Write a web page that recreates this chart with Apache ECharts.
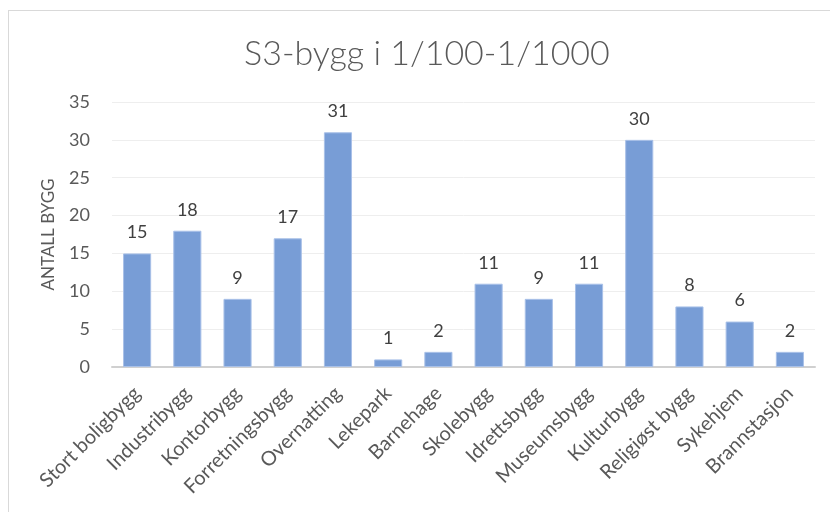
<!DOCTYPE html>
<html>
<head>
<meta charset="utf-8">
<script src="https://cdn.jsdelivr.net/npm/echarts@6/dist/echarts.min.js"></script>
<style>
  html, body { margin: 0; padding: 0; background: #fff; }
  #frame { position: absolute; left: 8px; top: 10px; width: 830px; height: 520px; border: 1px solid #d9d9d9; box-sizing: border-box; }
  #chart { position: absolute; left: 0; top: 0; width: 830px; height: 512px; }
</style>
</head>
<body>
<div id="frame"></div>
<div id="chart"></div>
<script>
var categories = ['Stort boligbygg', 'Industribygg', 'Kontorbygg', 'Forretningsbygg', 'Overnatting', 'Lekepark', 'Barnehage', 'Skolebygg', 'Idrettsbygg', 'Museumsbygg', 'Kulturbygg', 'Religiøst bygg', 'Sykehjem', 'Brannstasjon'];
var values = [15, 18, 9, 17, 31, 1, 2, 11, 9, 11, 30, 8, 6, 2];
var yTicks = [0, 5, 10, 15, 20, 25, 30, 35];

var font = 'Lato, "Open Sans", sans-serif';
var myChart = echarts.init(document.getElementById('chart'));
var option = {
    animation: false,
    title: {
        text: 'S3-bygg i 1/100-1/1000',
        left: 239,
        top: 32,
        textStyle: { color: '#595959', fontFamily: font, fontWeight: 300, fontSize: 34 }
    },
    grid: { left: 112, right: 15, top: 102, bottom: 145 },
    xAxis: {
        type: 'category',
        data: categories,
        axisLine: { lineStyle: { color: '#d0d0d0', width: 2 } },
        axisTick: { show: false },
        axisLabel: { rotate: 45, interval: 0, color: '#595959', fontFamily: font, fontSize: 20, margin: 23 }
    },
    yAxis: {
        type: 'value',
        min: yTicks[0],
        max: yTicks[yTicks.length - 1],
        interval: 5,
        name: 'ANTALL BYGG',
        nameLocation: 'middle',
        nameGap: 55,
        nameTextStyle: { color: '#595959', fontFamily: font, fontSize: 17 },
        axisLine: { show: false },
        axisTick: { show: false },
        axisLabel: { color: '#595959', fontFamily: font, fontSize: 18, margin: 22 },
        splitLine: { lineStyle: { color: '#eeeeee' } }
    },
    series: [{
        type: 'bar',
        data: values,
        barCategoryGap: '44%',
        itemStyle: { color: '#789dd6', borderColor: '#a9c1e8', borderWidth: 1 },
        label: { show: true, position: 'top', distance: 12, color: '#404040', fontFamily: font, fontSize: 18 }
    }]
};
myChart.setOption(option);
</script>
</body>
</html>
